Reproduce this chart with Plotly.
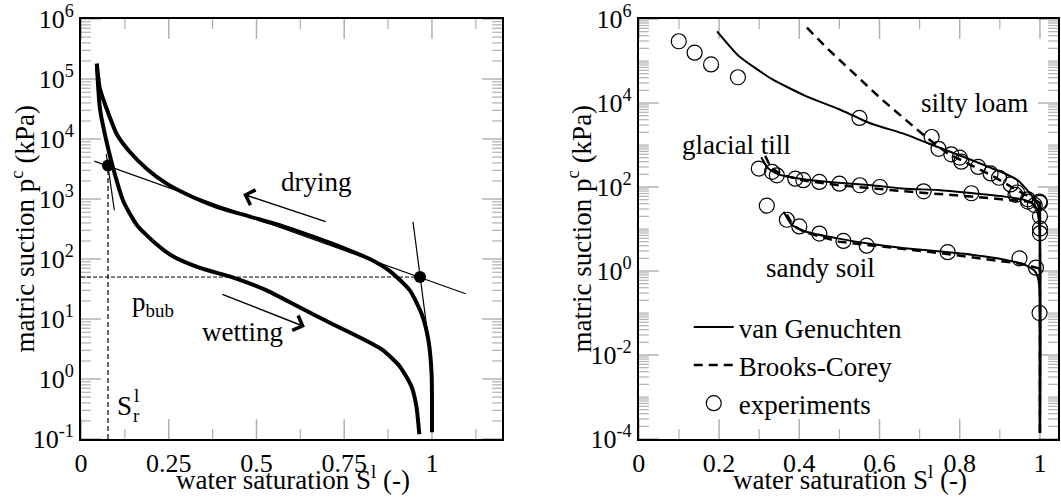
import plotly.graph_objects as go

# ---------------- left panel: hysteresis of the retention curve ----------------
dry_s = [0.045, 0.054, 0.073, 0.102, 0.140, 0.187, 0.244, 0.301, 0.387, 0.481,
         0.576, 0.671, 0.757, 0.823, 0.880, 0.937, 0.971, 0.990, 0.999, 1.0]
dry_p = [1.8e5, 6.8e4, 3.2e4, 1.2e4, 6.0e3, 3.2e3, 1.8e3, 1.2e3, 740, 510,
         350, 224, 145, 100, 63, 30, 12, 4.4, 1.2, 0.13]

wet_s = [0.045, 0.054, 0.073, 0.092, 0.121, 0.159, 0.216, 0.263, 0.339, 0.434,
         0.529, 0.624, 0.719, 0.795, 0.861, 0.909, 0.942, 0.956, 0.964]
wet_p = [1.8e5, 3.2e4, 8.9e3, 3.2e3, 910, 370, 174, 110, 71, 49,
         30, 15.5, 8.1, 4.9, 3.0, 1.6, 0.74, 0.34, 0.12]

# construction lines (tangents) and the two characteristic points
tan_s = [0.038, 1.096]
tan_p = [4270, 26.3]
tan_left_s = [0.072, 0.095]
tan_left_p = [5600, 650]
tan_right_s = [0.946, 0.990]
tan_right_p = [417, 4.4]
pt_s = [0.077, 0.966]
pt_p = [3630, 50]
s_res = 0.077
p_bub = 50

# ---------------- right panel: fitted models vs. experiments ----------------
silty_exp_s = [0.0995, 0.139, 0.180, 0.247, 0.550, 0.730, 0.747, 0.779, 0.800,
               0.804, 0.846, 0.877, 0.898, 0.927, 0.943, 0.970, 0.987, 0.999]
silty_exp_p = [2.95e5, 1.58e5, 8.3e4, 4.1e4, 4.4e3, 1550, 810, 600, 500,
               400, 300, 210, 166, 115, 74, 51, 37, 45]
till_exp_s = [0.299, 0.332, 0.344, 0.390, 0.410, 0.450, 0.500, 0.551, 0.601,
              0.710, 0.829, 0.939, 0.970, 1.0, 1.0, 1.0, 1.0]
till_exp_p = [275, 230, 190, 158, 145, 132, 120, 110, 100,
              79, 71, 65, 45, 42, 20, 10.2, 7.9]
sand_exp_s = [0.319, 0.369, 0.400, 0.450, 0.510, 0.568, 0.770, 0.949, 0.990, 0.999]
sand_exp_p = [36, 16.6, 11.5, 7.8, 5.2, 4.0, 2.8, 2.0, 1.2, 0.10]

silty_vg_s = [0.195, 0.249, 0.332, 0.415, 0.498, 0.580, 0.663, 0.746, 0.829,
              0.912, 0.945, 0.978, 0.995, 0.999, 1.0, 1.0]
silty_vg_p = [5.1e5, 1.32e5, 3.7e4, 1.48e4, 7.2e3, 3.2e3, 1.82e3, 890, 440,
              210, 145, 65, 37, 20, 3.0, 1.4e-4]
silty_bc_s = [0.419, 0.473, 0.539, 0.605, 0.672, 0.721, 0.771, 0.829, 0.879,
              0.929, 0.970, 0.993, 1.0, 1.0]
silty_bc_p = [6.2e5, 1.86e5, 4.8e4, 1.23e4, 3.5e3, 1.41e3, 620, 330, 190,
              100, 59, 45, 42, 1.4e-4]

till_vg_s = [0.305, 0.323, 0.348, 0.415, 0.498, 0.580, 0.663, 0.746, 0.829,
             0.912, 0.962, 0.987, 0.995, 1.0, 1.0]
till_vg_p = [510, 275, 200, 151, 126, 110, 91, 85, 72,
             59, 49, 37, 22, 6.3, 1.4e-4]
till_bc_s = [0.315, 0.330, 0.360, 0.415, 0.498, 0.663, 0.829, 0.970, 0.995, 1.0, 1.0]
till_bc_p = [550, 280, 190, 141, 110, 79, 59, 45, 41, 40, 1.4e-4]

sand_vg_s = [0.361, 0.381, 0.415, 0.498, 0.580, 0.663, 0.746, 0.829, 0.912,
             0.962, 0.987, 0.995, 1.0, 1.0]
sand_vg_p = [25.7, 12.6, 8.7, 5.9, 4.4, 3.5, 2.95, 2.45, 1.86,
             1.41, 1.0, 0.69, 0.25, 1.4e-4]
sand_bc_s = [0.369, 0.385, 0.415, 0.498, 0.746, 0.829, 0.954, 0.995, 1.0, 1.0]
sand_bc_p = [21.9, 12, 8.3, 5.0, 2.7, 2.14, 1.48, 1.17, 1.15, 1.4e-4]

# ---------------- ticks ----------------
left_x_major = [0, 0.25, 0.5, 0.75, 1.0]
left_x_minor = [0.125, 0.375, 0.625, 0.875, 1.125]
right_x_major = [0, 0.2, 0.4, 0.6, 0.8, 1.0]
right_x_minor = [0.1, 0.3, 0.5, 0.7, 0.9]
left_y_exps = [-1, 0, 1, 2, 3, 4, 5, 6]
right_y_exps = [-4, -2, 0, 2, 4, 6]

FONT = "Liberation Serif"
W, H = 1061, 502
ML, MR, MT, MB = 81, 1, 16, 63
PW, PH = W - ML - MR, H - MT - MB


def px_x(px):
    return (px - ML) / PW


def px_y(py):
    return (H - MB - py) / PH


fig = go.Figure()

# left panel
fig.add_trace(go.Scatter(x=dry_s, y=dry_p, mode="lines", xaxis="x", yaxis="y",
                         line=dict(color="black", width=4, shape="spline", smoothing=0.6),
                         showlegend=False))
fig.add_trace(go.Scatter(x=wet_s, y=wet_p, mode="lines", xaxis="x", yaxis="y",
                         line=dict(color="black", width=4, shape="spline", smoothing=0.6),
                         showlegend=False))
for xs, ys in [(tan_s, tan_p), (tan_left_s, tan_left_p), (tan_right_s, tan_right_p)]:
    fig.add_trace(go.Scatter(x=xs, y=ys, mode="lines", xaxis="x", yaxis="y",
                             line=dict(color="black", width=1.2), showlegend=False))
fig.add_trace(go.Scatter(x=[s_res, s_res], y=[0.1, pt_p[0]], mode="lines", xaxis="x", yaxis="y",
                         line=dict(color="black", width=1.2, dash="5px,3px"), showlegend=False))
fig.add_trace(go.Scatter(x=[0, pt_s[1]], y=[p_bub, p_bub], mode="lines", xaxis="x", yaxis="y",
                         line=dict(color="black", width=1, dash="4px,2px"), showlegend=False))
fig.add_trace(go.Scatter(x=pt_s, y=pt_p, mode="markers", xaxis="x", yaxis="y",
                         marker=dict(color="black", size=12), showlegend=False))

# right panel
bc_line = dict(color="black", width=2.5, dash="9px,6px")
vg_line = dict(color="black", width=2, shape="spline", smoothing=0.5)
vg_sets = [(silty_vg_s, silty_vg_p), (till_vg_s, till_vg_p), (sand_vg_s, sand_vg_p)]
bc_sets = [(silty_bc_s, silty_bc_p), (till_bc_s, till_bc_p), (sand_bc_s, sand_bc_p)]
exp_sets = [(silty_exp_s, silty_exp_p), (till_exp_s, till_exp_p), (sand_exp_s, sand_exp_p)]

for i, (xs, ys) in enumerate(bc_sets):
    fig.add_trace(go.Scatter(x=xs, y=ys, mode="lines", xaxis="x2", yaxis="y2",
                             line=bc_line, name="Brooks-Corey", legendgroup="bc",
                             legendrank=2, showlegend=(i == 0)))
for i, (xs, ys) in enumerate(vg_sets):
    fig.add_trace(go.Scatter(x=xs, y=ys, mode="lines", xaxis="x2", yaxis="y2",
                             line=vg_line, name="van Genuchten", legendgroup="vg",
                             legendrank=1, showlegend=(i == 0)))
for i, (xs, ys) in enumerate(exp_sets):
    fig.add_trace(go.Scatter(x=xs, y=ys, mode="markers", xaxis="x2", yaxis="y2",
                             marker=dict(symbol="circle-open", size=15, color="black",
                                         line=dict(width=1.2)),
                             name="experiments", legendgroup="exp",
                             legendrank=3, showlegend=(i == 0)))

# boxed axes
axis_common = dict(showline=True, linewidth=2, linecolor="black", mirror=True,
                   ticks="", ticklabeloverflow="allow")

split_left = px_x(503)
split_right = px_x(640)

fig.update_layout(
    template="simple_white",
    width=W, height=H,
    margin=dict(l=ML, r=MR, t=MT, b=MB),
    font=dict(family=FONT, size=26, color="black"),
    xaxis=dict(axis_common, domain=[0, split_left], range=[0, 1.2],
               tickvals=left_x_major, ticktext=["0", "0.25", "0.5", "0.75", "1"],
               anchor="y"),
    yaxis=dict(axis_common, type="log", range=[-1, 6],
               tickvals=[10.0 ** e for e in left_y_exps],
               ticktext=["10<sup>%d</sup>" % e for e in left_y_exps], anchor="x"),
    xaxis2=dict(axis_common, domain=[split_right, 1], range=[0, 1.045],
                tickvals=right_x_major, ticktext=["0", "0.2", "0.4", "0.6", "0.8", "1"],
                anchor="y2"),
    yaxis2=dict(axis_common, type="log", range=[-4, 6],
                tickvals=[10.0 ** e for e in right_y_exps],
                ticktext=["10<sup>%d</sup>" % e for e in right_y_exps], anchor="x2"),
    legend=dict(x=px_x(690), y=px_y(302), xanchor="left", yanchor="top",
                bgcolor="rgba(0,0,0,0)", borderwidth=0,
                font=dict(family=FONT, size=27, color="black"),
                itemwidth=40, tracegroupgap=0),
)

# inward tick marks on all four sides of each panel, placed at the tick values
MAJOR_LEN, MINOR_LEN = 20, 10
tick_shapes = []


def add_ticks(xa, ya, x_major, x_minor, y_major, y_minor, x_lo, x_hi):
    # ticks on the bottom and top edges (vertical extent in paper units)
    for vals, ln, lw in ((x_major, MAJOR_LEN, 1.5), (x_minor, MINOR_LEN, 1.2)):
        f = ln / PH
        for v in vals:
            for y0, y1 in ((0, f), (1 - f, 1)):
                tick_shapes.append(dict(type="line", xref=xa, yref="paper",
                                        x0=v, x1=v, y0=y0, y1=y1, layer="above",
                                        line=dict(color="black", width=lw)))
    # ticks on the left and right edges (horizontal extent in paper units)
    for vals, ln, lw in ((y_major, MAJOR_LEN, 1.5), (y_minor, MINOR_LEN, 1.2)):
        f = ln / PW
        for v in vals:
            for x0, x1 in ((x_lo, x_lo + f), (x_hi - f, x_hi)):
                tick_shapes.append(dict(type="line", xref="paper", yref=ya,
                                        x0=x0, x1=x1, y0=v, y1=v, layer="above",
                                        line=dict(color="black", width=lw)))


left_y_minor = [m * 10.0 ** e for e in range(-1, 6) for m in range(2, 10)]
right_y_minor = [m * 10.0 ** e for e in range(-4, 6)
                 for m in (range(1, 10) if e % 2 else range(2, 10))]
add_ticks("x", "y", left_x_major, left_x_minor,
          [10.0 ** e for e in left_y_exps], left_y_minor, 0, split_left)
add_ticks("x2", "y2", right_x_major, right_x_minor,
          [10.0 ** e for e in right_y_exps], right_y_minor, split_right, 1)
fig.update_layout(shapes=tick_shapes)

TXT = dict(family=FONT, size=27, color="black")
ann = []
# axis titles
for cx in (293, 852):
    ann.append(dict(text="water saturation S<sup>l</sup> (-)", xref="paper", yref="paper",
                    x=px_x(cx), y=px_y(478), xanchor="center", yanchor="middle",
                    showarrow=False, font=TXT))
for cx in (22, 580):
    ann.append(dict(text="matric suction p<sup>c</sup> (kPa)", xref="paper", yref="paper",
                    x=px_x(cx), y=px_y(227), xanchor="center", yanchor="middle",
                    textangle=-90, showarrow=False, font=TXT))

arrow_style = dict(showarrow=True, arrowhead=4, arrowsize=2.2, arrowwidth=1.4,
                   arrowcolor="black", standoff=0, startstandoff=0, text="",
                   xref="x", yref="y")
# left panel labels (log axis positions are given as exponents)
ann += [
    dict(text="drying", xref="x", yref="y", x=0.67, y=3.29, showarrow=False, font=TXT),
    dict(text="wetting", xref="x", yref="y", x=0.46, y=0.78, showarrow=False, font=TXT),
    dict(text="p<sub>bub</sub>", xref="x", yref="y", x=0.205, y=1.25, showarrow=False, font=TXT),
    dict(text="S", xref="x", yref="y", x=0.125, y=-0.45, showarrow=False, font=TXT),
    dict(text="l", xref="x", yref="y", x=0.159, y=-0.28, showarrow=False,
         font=dict(TXT, size=19)),
    dict(text="r", xref="x", yref="y", x=0.159, y=-0.60, showarrow=False,
         font=dict(TXT, size=19)),
    dict(arrow_style, x=0.462, y=3.08, ax=84, ay=28),
    dict(arrow_style, x=0.638, y=0.87, ax=-84, ay=-33),
]
# right panel labels
ann += [
    dict(text="silty loam", xref="x2", yref="y2", x=0.836, y=4.01, showarrow=False, font=TXT),
    dict(text="glacial till", xref="x2", yref="y2", x=0.244, y=3.0, showarrow=False, font=TXT),
    dict(text="sandy soil", xref="x2", yref="y2", x=0.454, y=0.07, showarrow=False, font=TXT),
]
fig.update_layout(annotations=ann)

fig.write_html("out.html")
